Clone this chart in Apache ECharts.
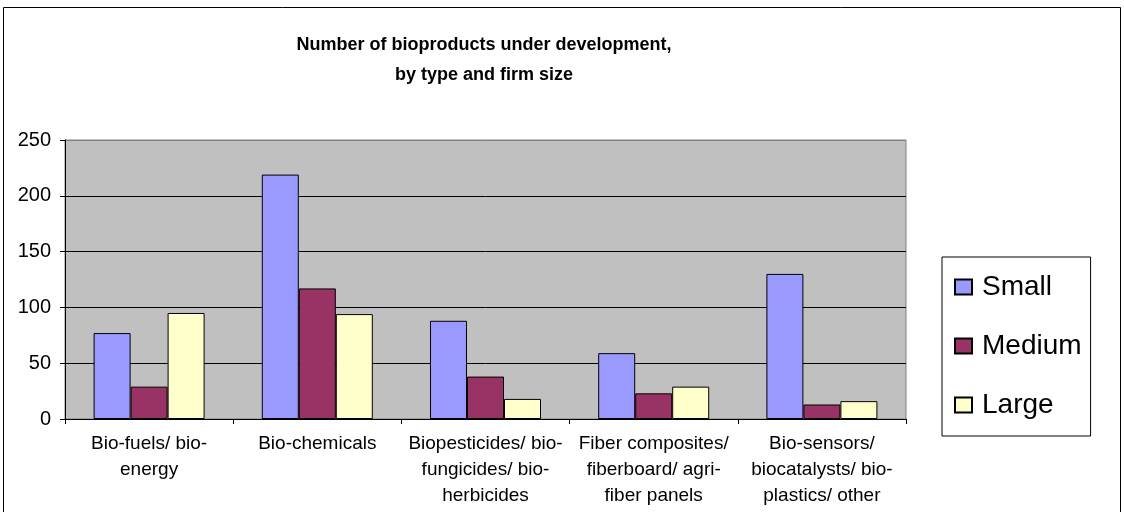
<!DOCTYPE html>
<html>
<head>
<meta charset="utf-8">
<script src="https://cdn.jsdelivr.net/npm/echarts@6/dist/echarts.min.js"></script>
<style>
  html, body { margin: 0; padding: 0; background: #fff; }
  #main { width: 1124px; height: 512px; }
</style>
</head>
<body>
<div id="main"></div>
<script>
var categories = [
    'Bio-fuels/ bio-\nenergy',
    'Bio-chemicals',
    'Biopesticides/ bio-\nfungicides/ bio-\nherbicides',
    'Fiber composites/\nfiberboard/ agri-\nfiber panels',
    'Bio-sensors/\nbiocatalysts/ bio-\nplastics/ other'
];
var smallFirms = [77, 219, 88, 59, 130];
var mediumFirms = [29, 117, 38, 23, 13];
var largeFirms = [95, 94, 18, 29, 16];

var fontFamily = '"Liberation Sans", Arial, sans-serif';

var chartDom = document.getElementById('main');
var myChart = echarts.init(chartDom);

var barStyle = function (color) {
    return { color: color, borderColor: '#000', borderWidth: 1 };
};

var option = {
    backgroundColor: '#fff',
    animation: false,
    title: {
        text: 'Number of bioproducts under development,\nby type and firm size',
        left: 479,
        textAlign: 'center',
        top: 25,
        textStyle: {
            fontFamily: fontFamily,
            fontSize: 18,
            fontWeight: 'bold',
            color: '#000',
            lineHeight: 30
        }
    },
    graphic: [
        {
            type: 'rect',
            shape: { x: 3.5, y: 7.5, width: 1117, height: 520 },
            style: { fill: 'none', stroke: '#000', lineWidth: 1 },
            silent: true
        }
    ],
    legend: {
        orient: 'vertical',
        left: 942,
        top: 257,
        padding: [16, 9, 17, 12],
        itemWidth: 17,
        itemHeight: 15,
        itemGap: 31,
        borderColor: '#000',
        borderWidth: 1,
        icon: 'rect',
        textStyle: {
            fontFamily: fontFamily,
            fontSize: 28,
            lineHeight: 28,
            color: '#000',
            padding: [0, 0, 0, 5]
        },
        data: ['Small', 'Medium', 'Large']
    },
    grid: {
        left: 65,
        right: 218,
        top: 140,
        bottom: 93,
        show: true,
        backgroundColor: '#C0C0C0',
        borderColor: '#808080',
        borderWidth: 1
    },
    xAxis: {
        type: 'category',
        data: categories,
        axisLine: { lineStyle: { color: '#000', width: 1 } },
        axisTick: { show: true, length: 5, lineStyle: { color: '#000' } },
        axisLabel: {
            interval: 0,
            margin: 12,
            fontFamily: fontFamily,
            fontSize: 19,
            lineHeight: 26,
            color: '#000'
        }
    },
    yAxis: {
        type: 'value',
        min: 0,
        max: 250,
        interval: 50,
        axisLine: { show: true, lineStyle: { color: '#000', width: 1 } },
        axisTick: { show: true, length: 5, lineStyle: { color: '#000' } },
        axisLabel: {
            margin: 14,
            fontFamily: fontFamily,
            fontSize: 20,
            color: '#000'
        },
        splitLine: {
            show: true,
            lineStyle: { color: ['#000', '#000', '#000', '#000', '#000', '#808080'], width: 1 }
        }
    },
    series: [
        {
            name: 'Small',
            type: 'bar',
            data: smallFirms,
            barGap: '0%',
            barCategoryGap: '34%',
            itemStyle: barStyle('#9999FF')
        },
        {
            name: 'Medium',
            type: 'bar',
            data: mediumFirms,
            itemStyle: barStyle('#993366')
        },
        {
            name: 'Large',
            type: 'bar',
            data: largeFirms,
            itemStyle: barStyle('#FFFFCC')
        }
    ]
};

myChart.setOption(option);
</script>
</body>
</html>
